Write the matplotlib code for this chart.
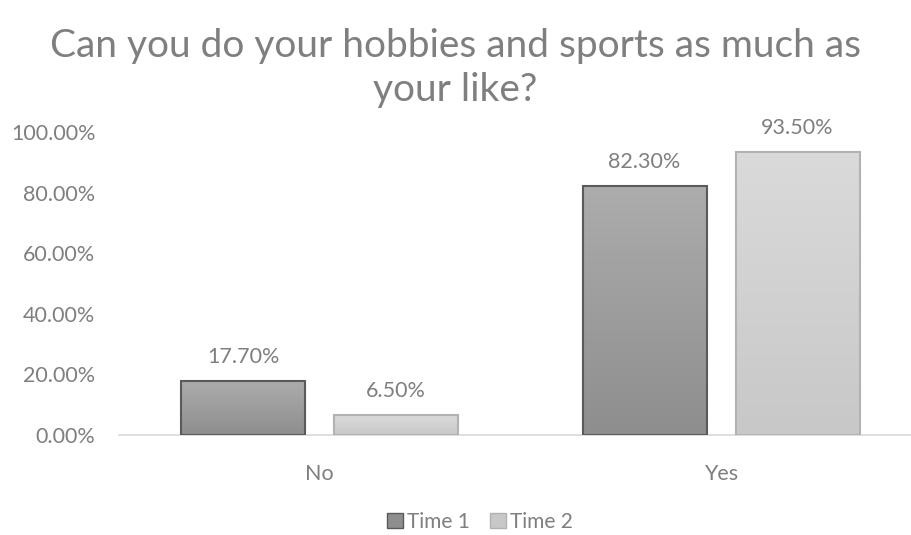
import matplotlib
matplotlib.use("Agg")
import matplotlib.pyplot as plt
from matplotlib.patches import Patch
import numpy as np

# survey answers, share of respondents
categories = ["No", "Yes"]
series_names = ["Time 1", "Time 2"]
time1 = [0.177, 0.823]
time2 = [0.065, 0.935]
y_ticks = [0.0, 0.2, 0.4, 0.6, 0.8, 1.0]

plt.rcParams['font.family'] = ['Lato', 'DejaVu Sans']
TXT = '#7f7f7f'

# fill colours (top, bottom) and edge colour of each series
styles = [
    (('#acacac', '#8e8e8e'), '#5a5a5a'),
    (('#dadada', '#c8c8c8'), '#b2b2b2'),
]

W, H = 911, 535
fig = plt.figure(figsize=(W / 100, H / 100), dpi=100)
ax = fig.add_axes([119 / W, (H - 435) / H, (911 - 119) / W, (435 - 132) / H])

x = np.arange(len(categories))
bw = 124 / 401.5
gap = 29 / 401.5
offsets = [-(bw + gap) / 2, (bw + gap) / 2]


def gradient_bar(ax, rect, top, bottom):
    """fill a bar with a vertical gradient, clipped to its rectangle"""
    x0, y0 = rect.get_x(), rect.get_y()
    w, h = rect.get_width(), rect.get_height()
    c_top = np.array(matplotlib.colors.to_rgb(top))
    c_bot = np.array(matplotlib.colors.to_rgb(bottom))
    t = np.linspace(0, 1, 64)[:, None]
    img = (c_top * (1 - t) + c_bot * t)[:, None, :]
    im = ax.imshow(img, extent=(x0, x0 + w, y0, y0 + h), aspect='auto',
                   origin='upper', zorder=2)
    im.set_clip_path(rect)


for i, vals in enumerate([time1, time2]):
    (ctop, cbot), edge = styles[i]
    bars = ax.bar(x + offsets[i], vals, bw, color='none', edgecolor=edge,
                  linewidth=1.5, zorder=3, label=series_names[i])
    for b, v in zip(bars, vals):
        gradient_bar(ax, b, ctop, cbot)
        ax.annotate(f"{v * 100:.2f}%", (b.get_x() + b.get_width() / 2, v),
                    xytext=(0, 10), textcoords='offset points', ha='center',
                    va='bottom', fontsize=15.5, color=TXT, annotation_clip=False)

ax.set_xlim(-(319.5 - 119) / 401.5, 1 + (911 - 721) / 401.5)
ax.set_ylim(0, 1.0)
ax.set_yticks(y_ticks)
ax.set_yticklabels([f"{t * 100:.2f}%" for t in y_ticks])
ax.set_xticks(x)
ax.set_xticklabels(categories)
ax.tick_params(axis='both', length=0, labelsize=15.5, labelcolor=TXT)
ax.tick_params(axis='y', pad=17)
ax.tick_params(axis='x', pad=21)
for s in ['top', 'right', 'left']:
    ax.spines[s].set_visible(False)
ax.spines['bottom'].set_color('#d9d9d9')
ax.spines['bottom'].set_linewidth(1.2)

fig.text(0.5, 1 - 68 / H, "Can you do your hobbies and sports as much as\nyour like?",
         ha='center', va='center', fontsize=28, color=TXT, linespacing=1.3)

handles = [Patch(facecolor=styles[i][0][1], edgecolor=styles[i][1], label=series_names[i])
           for i in range(2)]
fig.legend(handles=handles, loc='center', bbox_to_anchor=(480 / W, 1 - 522 / H),
           ncol=2, frameon=False, fontsize=15, labelcolor=TXT, handlelength=0.75,
           handleheight=0.75, handletextpad=0.2, columnspacing=1.0)

fig.savefig("out.png", dpi=100)
